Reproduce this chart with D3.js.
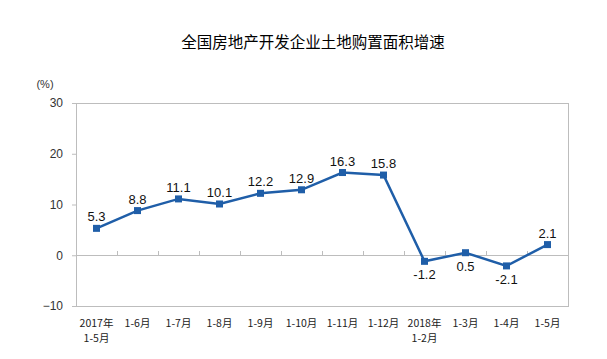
<!DOCTYPE html>
<html><head><meta charset="utf-8">
<script src="https://cdn.jsdelivr.net/npm/d3@7"></script>
<style>body{margin:0;background:#fff}svg{display:block}</style>
</head><body>
<script>
const title = "全国房地产开发企业土地购置面积增速";
const unitLabel = "(%)";
const categories = [["2017年","1-5月"],["1-6月"],["1-7月"],["1-8月"],["1-9月"],["1-10月"],["1-11月"],["1-12月"],["2018年","1-2月"],["1-3月"],["1-4月"],["1-5月"]];
const values = [5.3, 8.8, 11.1, 10.1, 12.2, 12.9, 16.3, 15.8, -1.2, 0.5, -2.1, 2.1];
const labelBelow = [false,false,false,false,false,false,false,false,true,true,true,false];
const yTicks = [-10, 0, 10, 20, 30];

const W = 607, H = 359;
const m = {left:76, right:39, top:103, bottom:53};
const svg = d3.select("body").append("svg").attr("width", W).attr("height", H);
const font = "'Noto Sans CJK SC', 'Liberation Sans', sans-serif";

const x = d3.scaleBand().domain(d3.range(categories.length)).range([m.left, W - m.right]);
const y = d3.scaleLinear().domain([-10, 30]).range([H - m.bottom, m.top]);

svg.append("text").attr("x", 313).attr("y", 48).attr("text-anchor","middle")
  .attr("font-family", font).attr("font-size", 15.5).attr("fill","#000").text(title);
svg.append("text").attr("x", 45).attr("y", 88).attr("text-anchor","middle")
  .attr("font-family", "'Liberation Sans', sans-serif").attr("font-size", 11).attr("fill","#333").text(unitLabel);

// plot border
svg.append("rect").attr("x", m.left).attr("y", y(30)).attr("width", W - m.right - m.left)
  .attr("height", y(-10) - y(30)).attr("fill","none").attr("stroke","#bdbdbd").attr("stroke-width",1).attr("shape-rendering","crispEdges");

// y axis
const yAxis = svg.append("g").attr("transform", `translate(${m.left},0)`)
  .call(d3.axisLeft(y).tickValues(yTicks).tickSize(4).tickPadding(9));
yAxis.select(".domain").attr("stroke","#bdbdbd");
yAxis.selectAll(".tick line").attr("stroke","#bdbdbd");
yAxis.selectAll(".tick text").attr("font-family","'Liberation Sans', sans-serif").attr("font-size",12).attr("fill","#333");

// zero line with upward ticks at band boundaries
svg.append("line").attr("x1", m.left).attr("x2", W - m.right).attr("y1", y(0)).attr("y2", y(0))
  .attr("stroke","#bdbdbd").attr("shape-rendering","crispEdges");
svg.append("g").selectAll("line").data(d3.range(1, categories.length)).join("line")
  .attr("x1", d => x(d)).attr("x2", d => x(d)).attr("y1", y(0)).attr("y2", y(0) - 4)
  .attr("stroke","#bdbdbd").attr("shape-rendering","crispEdges");

// x labels
const xl = svg.append("g");
categories.forEach((c, i) => {
  c.forEach((s, j) => xl.append("text").attr("x", x(i) + x.bandwidth()/2).attr("y", 327 + j * 15)
    .attr("text-anchor","middle").attr("font-family", font).attr("font-size", 10.5).attr("fill","#222").text(s));
});

const cx = i => x(i) + x.bandwidth()/2;
const color = "#1f5ea8";
svg.append("path").datum(values)
  .attr("d", d3.line().x((d,i) => cx(i)).y(d => y(d)))
  .attr("fill","none").attr("stroke", color).attr("stroke-width", 2.5);
svg.append("g").selectAll("rect").data(values).join("rect")
  .attr("x", (d,i) => cx(i) - 3.5).attr("y", d => y(d) - 3.5).attr("width", 7).attr("height", 7).attr("fill", color);

svg.append("g").selectAll("text").data(values).join("text")
  .attr("x", (d,i) => cx(i)).attr("y", (d,i) => labelBelow[i] ? y(d) + 18 : y(d) - 7)
  .attr("text-anchor","middle").attr("font-family","'Liberation Sans', sans-serif").attr("font-size",13).attr("fill","#111")
  .text(d => d.toFixed(1));
</script>
</body></html>
